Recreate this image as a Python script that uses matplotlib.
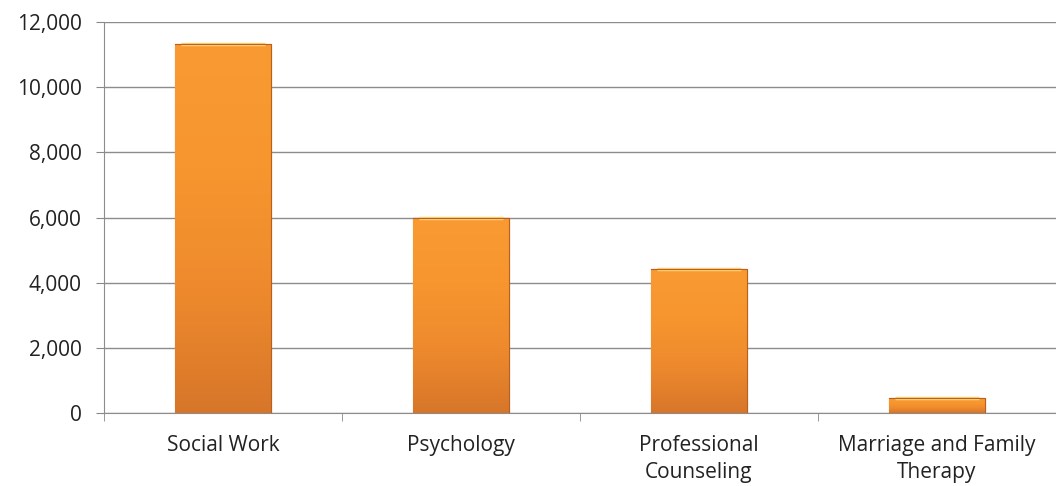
import numpy as np
import matplotlib
matplotlib.use('Agg')
from matplotlib import pyplot as plt
from matplotlib.colors import LinearSegmentedColormap
from matplotlib.ticker import FuncFormatter

categories = ['Social Work', 'Psychology', 'Professional\nCounseling',
              'Marriage and Family\nTherapy']
values = [11330, 5990, 4420, 460]
y_ticks = [0, 2000, 4000, 6000, 8000, 10000, 12000]

plt.rcParams['font.family'] = ['Open Sans', 'DejaVu Sans']

fig = plt.figure(figsize=(10.56, 4.86), dpi=100)
ax = fig.add_axes([104 / 1056, 1 - 413 / 486, 952 / 1056, (413 - 22) / 486])

x = np.arange(len(categories))
bars = ax.bar(x, values, width=0.4, color='#F7922E', edgecolor='#B8601C',
              linewidth=0.8, zorder=3)

# vertical gradient inside each bar
cmap = LinearSegmentedColormap.from_list('orange', ['#D7762A', '#EE8A2D', '#F7962F', '#F99A33'])
grad = np.linspace(0, 1, 256).reshape(-1, 1)
for b in bars:
    x0, y0 = b.get_x(), b.get_y()
    w, h = b.get_width(), b.get_height()
    im = ax.imshow(grad, cmap=cmap, origin='lower', aspect='auto',
                   extent=[x0, x0 + w, y0, y0 + h], zorder=3.5)
    im.set_clip_path(b)
    # light bevel on top
    ax.plot([x0 + w * 0.06, x0 + w * 0.94], [y0 + h, y0 + h], color='#FFD27A',
            lw=2.5, zorder=4, solid_capstyle='butt')
    ax.plot([x0, x0 + w, x0 + w, x0], [y0 + h, y0 + h, y0, y0], color='#B8601C',
            lw=0.8, zorder=4.5)

ax.set_xlim(-0.5, len(categories) - 0.5)
ax.set_ylim(0, 12000)
ax.set_yticks(y_ticks)
ax.yaxis.set_major_formatter(FuncFormatter(lambda v, p: f'{int(v):,}'))
ax.set_xticks(x)
ax.set_xticklabels(categories, linespacing=1.35)
ax.set_xticks(np.arange(len(categories) + 1) - 0.5, minor=True)
ax.tick_params(axis='x', which='major', length=0, pad=16, labelsize=15, colors='#222222')
ax.tick_params(axis='x', which='minor', length=6, color='#888888', direction='out')
ax.tick_params(axis='y', length=6, color='#888888', labelsize=15, labelcolor='#222222', pad=10)

ax.grid(axis='y', color='#8c8c8c', linewidth=1, zorder=0)
ax.set_axisbelow(True)
for s in ['top', 'right']:
    ax.spines[s].set_visible(False)
ax.spines['left'].set_color('#8c8c8c')
ax.spines['bottom'].set_color('#8c8c8c')

fig.savefig('out.png', dpi=100)
